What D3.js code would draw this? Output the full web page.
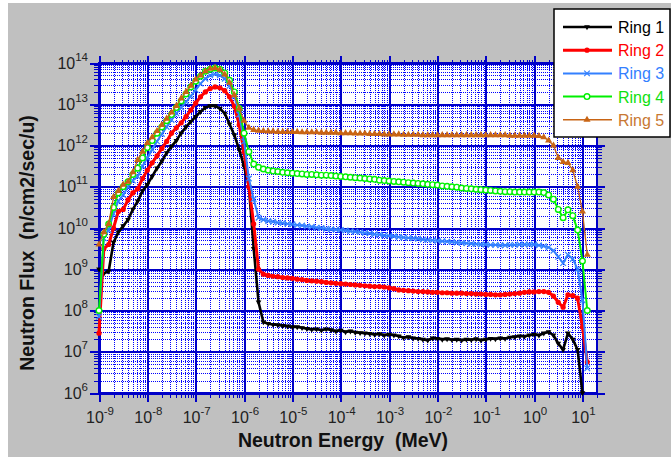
<!DOCTYPE html>
<html>
<head>
<meta charset="utf-8">
<script src="https://cdn.jsdelivr.net/npm/d3@7"></script>
<style>
  body { margin: 0; background: #fff; }
  svg { display: block; font-family: Arial, "Liberation Sans", sans-serif; }
</style>
</head>
<body>
<div id="chart"></div>
<script>
// energy grid, log10(MeV)
const logEnergy = [
  -9.0,-8.9,-8.8,-8.7,-8.6,-8.5,-8.4,-8.3,-8.2,-8.1,
  -8.0,-7.9,-7.8,-7.7,-7.6,-7.5,-7.4,-7.3,-7.2,-7.1,
  -7.0,-6.9,-6.8,-6.7,-6.6,-6.5,-6.4,-6.3,-6.2,-6.1,
  -6.0,-5.9,-5.8,-5.7,-5.6,-5.5,-5.4,-5.3,-5.2,-5.1,
  -5.0,-4.9,-4.8,-4.7,-4.6,-4.5,-4.4,-4.3,-4.2,-4.1,
  -4.0,-3.9,-3.8,-3.7,-3.6,-3.5,-3.4,-3.3,-3.2,-3.1,
  -3.0,-2.9,-2.8,-2.7,-2.6,-2.5,-2.4,-2.3,-2.2,-2.1,
  -2.0,-1.9,-1.8,-1.7,-1.6,-1.5,-1.4,-1.3,-1.2,-1.1,
  -1.0,-0.9,-0.8,-0.7,-0.6,-0.5,-0.4,-0.3,-0.2,-0.1,
   0.0, 0.1, 0.2, 0.3, 0.4, 0.5, 0.6, 0.7, 0.8, 0.9,
   1.0, 1.1
];

// flux, log10(n/cm2/sec/u)
const ring1 = [
  9.0, 8.9, 8.95, 9.65, 9.9, 10.05, 10.2, 10.45, 10.65, 10.9,
  11.05, 11.25, 11.45, 11.62, 11.82, 11.98, 12.12, 12.3, 12.45, 12.58,
  12.7, 12.82, 12.92, 12.96, 12.96, 12.9, 12.78, 12.52, 12.25, 11.9,
  11.5, 11.0, 9.5, 8.2, 7.72, 7.68, 7.66, 7.65, 7.63, 7.62,
  7.6, 7.6, 7.58, 7.56, 7.54, 7.55, 7.52, 7.55, 7.53, 7.5,
  7.52, 7.48, 7.5, 7.47, 7.46, 7.45, 7.44, 7.42, 7.43, 7.4,
  7.42, 7.4, 7.38, 7.34, 7.36, 7.33, 7.32, 7.3, 7.28, 7.33,
  7.32, 7.3, 7.31, 7.29, 7.3, 7.28, 7.3, 7.29, 7.31, 7.28,
  7.3, 7.32, 7.31, 7.33, 7.32, 7.35, 7.36, 7.38, 7.37, 7.4,
  7.42, 7.4, 7.45, 7.48, 7.4, 7.2, 7.05, 7.45, 7.3, 7.05,
  6.0, null
];
const ring2 = [
  7.45, 9.5, 9.6, 10.0, 10.4, 10.45, 10.68, 10.85, 10.95, 11.2,
  11.4, 11.58, 11.75, 11.93, 12.1, 12.3, 12.43, 12.55, 12.7, 12.86,
  13.03, 13.18, 13.3, 13.38, 13.42, 13.4, 13.33, 13.18, 12.95, 12.5,
  11.85, 11.0, 10.1, 9.0, 8.88, 8.85, 8.83, 8.82, 8.8, 8.79,
  8.78, 8.76, 8.75, 8.73, 8.72, 8.71, 8.7, 8.68, 8.67, 8.66,
  8.65, 8.64, 8.63, 8.62, 8.61, 8.6, 8.59, 8.58, 8.58, 8.57,
  8.55, 8.53, 8.5, 8.49, 8.48, 8.47, 8.46, 8.46, 8.45, 8.44,
  8.44, 8.43, 8.43, 8.42, 8.42, 8.42, 8.41, 8.41, 8.4, 8.4,
  8.39, 8.39, 8.38, 8.38, 8.39, 8.4, 8.41, 8.42, 8.44, 8.45,
  8.45, 8.46, 8.46, 8.44, 8.35, 8.2, 8.08, 8.38, 8.36, 8.3,
  7.6, 6.75
];
const ring3 = [
  7.85, 9.75, 9.95, 10.35, 10.65, 10.8, 11.0, 11.15, 11.25, 11.5,
  11.7, 11.9, 12.1, 12.28, 12.45, 12.62, 12.78, 12.92, 13.06, 13.2,
  13.35, 13.5, 13.62, 13.7, 13.73, 13.7, 13.62, 13.45, 13.2, 12.75,
  12.1, 11.2, 10.7, 10.25, 10.2, 10.17, 10.15, 10.13, 10.12, 10.1,
  10.09, 10.07, 10.06, 10.04, 10.03, 10.01, 10.0, 9.98, 9.97, 9.96,
  9.95, 9.94, 9.92, 9.91, 9.9, 9.88, 9.87, 9.85, 9.84, 9.82,
  9.81, 9.8, 9.78, 9.77, 9.76, 9.75, 9.74, 9.72, 9.71, 9.7,
  9.69, 9.68, 9.67, 9.66, 9.65, 9.64, 9.63, 9.62, 9.61, 9.6,
  9.6, 9.59, 9.59, 9.58, 9.58, 9.59, 9.59, 9.6, 9.6, 9.6,
  9.6, 9.58, 9.56, 9.53, 9.45, 9.3, 9.15, 9.35, 9.25, 9.0,
  8.25, 6.6
];
const ring4 = [
  8.0, 9.85, 10.1, 10.5, 10.85, 11.0, 11.12, 11.3, 11.45, 11.7,
  11.95, 12.12, 12.3, 12.45, 12.6, 12.75, 12.92, 13.08, 13.25, 13.42,
  13.56, 13.68, 13.8, 13.85, 13.88, 13.85, 13.76, 13.58, 13.3, 12.9,
  12.3, 11.85, 11.55, 11.47, 11.43, 11.4, 11.38, 11.37, 11.35, 11.34,
  11.33, 11.32, 11.31, 11.3, 11.3, 11.29, 11.28, 11.28, 11.27, 11.26,
  11.25, 11.24, 11.23, 11.22, 11.21, 11.2, 11.19, 11.18, 11.16, 11.15,
  11.14, 11.13, 11.12, 11.11, 11.1, 11.09, 11.08, 11.07, 11.06, 11.05,
  11.04, 11.02, 11.01, 11.0, 10.99, 10.97, 10.96, 10.95, 10.94, 10.93,
  10.92, 10.91, 10.9, 10.89, 10.88, 10.88, 10.87, 10.87, 10.87, 10.87,
  10.87, 10.87, 10.86, 10.8, 10.7, 10.45, 10.25, 10.44, 10.3, 9.95,
  9.2, 8.0
];
const ring5 = [
  9.6, 9.9, 10.1, 10.75, 10.9, 11.05, 11.12, 11.35, 11.65, 11.85,
  12.06, 12.2, 12.35, 12.5, 12.65, 12.8, 12.96, 13.14, 13.3, 13.45,
  13.6, 13.7, 13.8, 13.86, 13.88, 13.84, 13.72, 13.52, 13.22, 12.9,
  12.6, 12.43, 12.38, 12.36, 12.35, 12.34, 12.34, 12.33, 12.33, 12.33,
  12.33, 12.33, 12.32, 12.32, 12.32, 12.32, 12.31, 12.31, 12.31, 12.31,
  12.3, 12.3, 12.3, 12.29, 12.29, 12.29, 12.28, 12.28, 12.28, 12.27,
  12.27, 12.27, 12.27, 12.26, 12.26, 12.26, 12.26, 12.25, 12.25, 12.25,
  12.25, 12.25, 12.25, 12.25, 12.25, 12.25, 12.25, 12.25, 12.25, 12.25,
  12.25, 12.25, 12.25, 12.25, 12.25, 12.24, 12.24, 12.24, 12.24, 12.24,
  12.24, 12.23, 12.2, 12.12, 12.0, 11.7, 11.6, 11.58, 11.4, 11.0,
  10.4, 9.35
];

const seriesNames = ["Ring 1", "Ring 2", "Ring 3", "Ring 4", "Ring 5"];
const xTickExp = [-9, -8, -7, -6, -5, -4, -3, -2, -1, 0, 1];
const yTickExp = [6, 7, 8, 9, 10, 11, 12, 13, 14];

const styles = [
  { color: "#000000", text: "#000000", width: 2.6, marker: "tri-down" },
  { color: "#ff0000", text: "#ff0000", width: 3,   marker: "dot" },
  { color: "#3380ff", text: "#3380ff", width: 2,   marker: "x" },
  { color: "#00f000", text: "#10e010", width: 2,   marker: "ring" },
  { color: "#c86414", text: "#c87832", width: 1.3, marker: "tri-up" }
];

const W = 671, H = 459;
const pL = 99, pR = 597, pT = 63, pB = 393;

const svg = d3.select("#chart").append("svg")
  .attr("width", W).attr("height", H);

svg.append("rect").attr("x", 8).attr("y", 3)
  .attr("width", W - 8).attr("height", 454).attr("fill", "#c0c0c0");

const x = d3.scaleLog().domain([1e-9, 20]).range([pL, pR]);
const y = d3.scaleLog().domain([1e6, 1e14]).range([pB, pT]);

svg.append("rect").attr("x", pL).attr("y", pT)
  .attr("width", pR - pL).attr("height", pB - pT).attr("fill", "#fff");

const xMajor = xTickExp.map(e => Math.pow(10, e));
const yMajor = yTickExp.map(e => Math.pow(10, e));
const xMinor = [], yMinor = [];
xMajor.forEach(v => { for (let k = 2; k <= 9; k++) if (v * k <= 20.001) xMinor.push(v * k); });
yMajor.slice(0, -1).forEach(v => { for (let k = 2; k <= 9; k++) yMinor.push(v * k); });

// dotted minor grid
function styleGrid(g, color, w, dash) {
  g.select(".domain").remove();
  g.selectAll(".tick line").attr("stroke", color).attr("stroke-width", w)
    .attr("stroke-dasharray", dash).attr("shape-rendering", "crispEdges");
}
svg.append("g").attr("transform", `translate(0,${pB})`)
  .call(d3.axisBottom(x).tickValues(xMinor).tickSize(-(pB - pT)).tickFormat(""))
  .call(g => styleGrid(g, "#0000ff", 1, "1,1"));
svg.append("g").attr("transform", `translate(${pL},0)`)
  .call(d3.axisLeft(y).tickValues(yMinor).tickSize(-(pR - pL)).tickFormat(""))
  .call(g => styleGrid(g, "#0000ff", 1, "1,1"));

// solid major grid
svg.append("g").attr("transform", `translate(0,${pB})`)
  .call(d3.axisBottom(x).tickValues(xMajor).tickSize(-(pB - pT)).tickFormat(""))
  .call(g => styleGrid(g, "#0000c8", 2, null));
svg.append("g").attr("transform", `translate(${pL},0)`)
  .call(d3.axisLeft(y).tickValues(yMajor).tickSize(-(pR - pL)).tickFormat(""))
  .call(g => styleGrid(g, "#0000c8", 2, null));

// outward ticks on all four sides
function ticks(axis, tr, vals, size, w) {
  svg.append("g").attr("transform", tr)
    .call(axis.tickValues(vals).tickSize(size).tickSizeOuter(0).tickFormat(""))
    .call(g => {
      g.select(".domain").remove();
      g.selectAll(".tick line").attr("stroke", "#0000c8").attr("stroke-width", w)
        .attr("shape-rendering", "crispEdges");
    });
}
ticks(d3.axisBottom(x), `translate(0,${pB})`, xMinor, 5, 1);
ticks(d3.axisBottom(x), `translate(0,${pB})`, xMajor, 9, 2);
ticks(d3.axisTop(x), `translate(0,${pT})`, xMinor, 3, 1);
ticks(d3.axisTop(x), `translate(0,${pT})`, xMajor, 7, 2);
ticks(d3.axisLeft(y), `translate(${pL},0)`, yMinor, 5, 1);
ticks(d3.axisLeft(y), `translate(${pL},0)`, yMajor, 9, 2);
ticks(d3.axisRight(y), `translate(${pR},0)`, yMinor, 5, 1);
ticks(d3.axisRight(y), `translate(${pR},0)`, yMajor, 8, 2);

svg.append("rect").attr("x", pL).attr("y", pT)
  .attr("width", pR - pL).attr("height", pB - pT)
  .attr("fill", "none").attr("stroke", "#0000c8").attr("stroke-width", 2);

// tick labels
svg.append("g").selectAll("text").data(xTickExp).enter().append("text")
  .attr("x", d => x(Math.pow(10, d)) + 1).attr("y", 423)
  .attr("text-anchor", "middle").attr("font-size", 16).attr("fill", "#222")
  .each(function(d) {
    const t = d3.select(this);
    t.append("tspan").text("10");
    t.append("tspan").attr("dy", -8).attr("font-size", 11.5).text(d);
  });

svg.append("g").selectAll("text").data(yTickExp).enter().append("text")
  .attr("x", 88).attr("y", d => y(Math.pow(10, d)) + 5.5)
  .attr("text-anchor", "end").attr("font-size", 16).attr("fill", "#222")
  .each(function(d) {
    const t = d3.select(this);
    t.append("tspan").text("10");
    t.append("tspan").attr("dy", -8).attr("font-size", 11.5).text(d);
  });

// axis titles
svg.append("text").attr("x", 343).attr("y", 447)
  .attr("text-anchor", "middle").attr("font-size", 19.5).attr("font-weight", "bold")
  .attr("fill", "#111").attr("xml:space", "preserve")
  .text("Neutron Energy  (MeV)");
svg.append("text").attr("transform", "translate(34,243) rotate(-90)")
  .attr("text-anchor", "middle").attr("font-size", 19.5).attr("font-weight", "bold")
  .attr("fill", "#111").attr("xml:space", "preserve")
  .text("Neutron Flux  (n/cm2/sec/u)");

// markers
function drawMarker(g, kind, color, cx, cy) {
  if (kind === "dot") {
    g.append("circle").attr("cx", cx).attr("cy", cy).attr("r", 2.6).attr("fill", color);
  } else if (kind === "ring") {
    g.append("circle").attr("cx", cx).attr("cy", cy).attr("r", 2.8)
      .attr("fill", "#fff").attr("stroke", color).attr("stroke-width", 1.4);
  } else if (kind === "x") {
    g.append("path").attr("d", d3.symbol(d3.symbolX, 22)())
      .attr("transform", `translate(${cx},${cy})`)
      .attr("fill", "none").attr("stroke", color).attr("stroke-width", 1.2);
  } else {
    const rot = kind === "tri-down" ? 180 : 0;
    g.append("path").attr("d", d3.symbol(d3.symbolTriangle, kind === "tri-down" ? 14 : 22)())
      .attr("transform", `translate(${cx},${cy}) rotate(${rot})`).attr("fill", color);
  }
}

const line = d3.line()
  .defined(d => d.f != null)
  .x(d => x(d.e))
  .y(d => y(d.f));

[ring1, ring2, ring3, ring4, ring5].forEach((vals, i) => {
  const st = styles[i];
  const pts = logEnergy.map((le, j) => ({
    e: Math.pow(10, le),
    f: vals[j] == null ? null : Math.pow(10, vals[j])
  }));
  const g = svg.append("g");
  g.append("path").datum(pts).attr("d", line)
    .attr("fill", "none").attr("stroke", st.color)
    .attr("stroke-width", st.width).attr("stroke-linejoin", "round");
  pts.filter(d => d.f != null).forEach(d => drawMarker(g, st.marker, st.color, x(d.e), y(d.f)));
});

// legend
const lg = svg.append("g");
lg.append("rect").attr("x", 554).attr("y", 9).attr("width", 116).attr("height", 128)
  .attr("fill", "#fff").attr("stroke", "#000").attr("stroke-width", 1.5);
seriesNames.forEach((name, i) => {
  const st = styles[i];
  const ly = 27 + i * 23.2;
  lg.append("line").attr("x1", 563).attr("x2", 612).attr("y1", ly).attr("y2", ly)
    .attr("stroke", st.color).attr("stroke-width", Math.max(st.width, 1.5));
  drawMarker(lg, st.marker, st.color, 587, ly);
  lg.append("text").attr("x", 618).attr("y", ly + 6)
    .attr("font-size", 16).attr("fill", st.text).text(name);
});
</script>
</body>
</html>
